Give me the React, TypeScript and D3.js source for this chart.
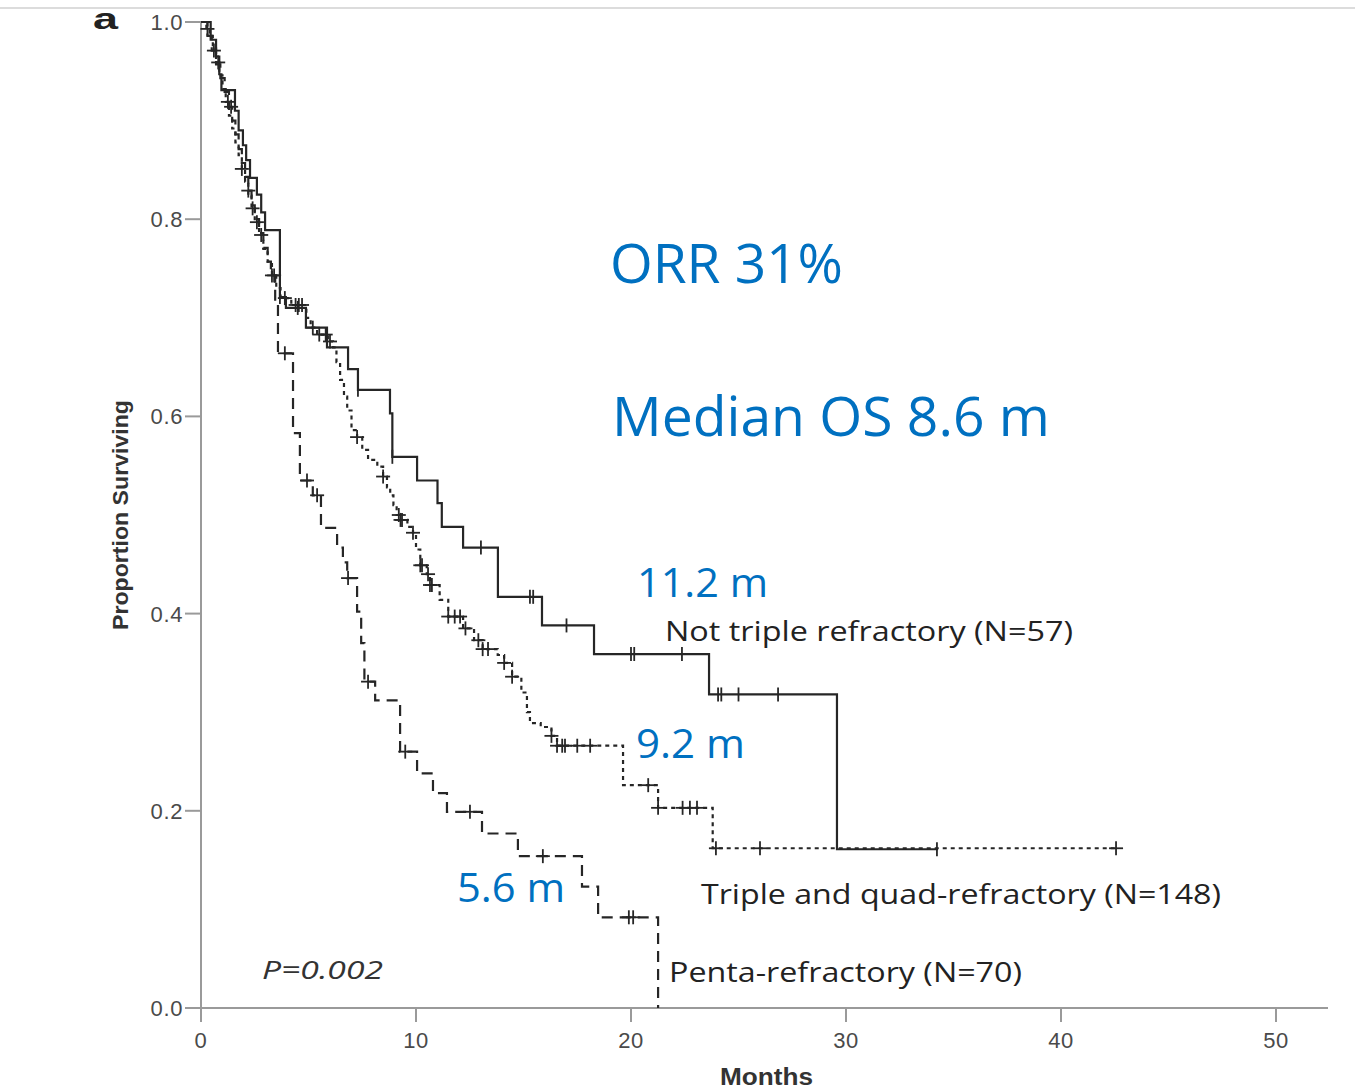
import React from "react";
import * as d3 from "d3";

// ---- Data (months, proportion surviving after the drop) ----
const notTripleSteps: [number, number][] = [
  [0.45, 0.982], [0.7, 0.965], [0.85, 0.947], [0.95, 0.931], [1.58, 0.91], [1.75, 0.89],
  [1.95, 0.875], [2.1, 0.86], [2.28, 0.842], [2.6, 0.825], [2.8, 0.807], [2.98, 0.789],
  [3.67, 0.721], [3.95, 0.71], [4.88, 0.69], [5.86, 0.67], [6.84, 0.648], [7.3, 0.627],
  [8.79, 0.603], [8.9, 0.559], [10.05, 0.535], [11.0, 0.512], [11.2, 0.488], [12.19, 0.467],
  [13.81, 0.417], [15.86, 0.388], [18.28, 0.359], [23.63, 0.318], [29.58, 0.161],
];
const notTripleEnd = 34.28;
const notTripleCensor = [3.67, 4.5, 7.3, 8.9, 13.02, 15.3, 15.45, 17.0, 20.0, 20.15, 22.37, 24.05, 24.2, 25.0, 26.84, 34.23];

const tripleQuadSteps: [number, number][] = [
  [0.25, 0.993], [0.4, 0.986], [0.55, 0.973], [0.7, 0.959], [0.85, 0.946], [1.0, 0.932],
  [1.15, 0.919], [1.3, 0.905], [1.45, 0.892], [1.6, 0.878], [1.75, 0.865], [1.9, 0.851],
  [2.05, 0.838], [2.2, 0.824], [2.35, 0.811], [2.5, 0.797], [2.7, 0.784], [2.9, 0.77],
  [3.1, 0.757], [3.3, 0.743], [3.5, 0.73], [3.7, 0.72], [4.2, 0.713], [4.9, 0.7],
  [5.1, 0.69], [5.4, 0.683], [5.9, 0.676], [6.14, 0.67], [6.3, 0.655], [6.47, 0.637],
  [6.65, 0.62], [6.8, 0.606], [7.0, 0.586], [7.26, 0.579], [7.5, 0.566], [7.77, 0.556],
  [8.2, 0.549], [8.47, 0.539], [8.65, 0.528], [8.8, 0.52], [8.95, 0.51], [9.1, 0.5],
  [9.26, 0.495], [9.6, 0.488], [9.86, 0.482], [10.0, 0.465], [10.2, 0.449], [10.5, 0.44],
  [10.65, 0.429], [11.1, 0.414], [11.5, 0.397], [12.19, 0.385], [12.7, 0.373], [13.1, 0.364],
  [13.8, 0.358], [14.1, 0.35], [14.47, 0.336], [14.9, 0.32], [15.16, 0.3], [15.3, 0.289],
  [15.8, 0.285], [16.3, 0.276], [16.56, 0.266], [19.63, 0.226], [21.26, 0.203], [23.8, 0.162],
];
const tripleQuadEnd = 42.56;
const tripleQuadCensor = [
  0.3, 0.8, 1.25, 1.9, 2.4, 2.6, 2.8, 3.4, 3.9, 4.4, 4.55, 4.7, 5.2, 5.5, 5.8, 6.0, 7.26, 8.47,
  9.2, 9.28, 9.35, 9.86, 10.2, 10.28, 10.56, 10.65, 10.74, 11.5, 11.8, 12.05, 12.3, 12.9, 13.1,
  13.35, 14.1, 14.47, 16.3, 16.56, 16.8, 16.93, 17.5, 18.1, 20.8, 21.26, 22.4, 22.74, 23.07,
  23.95, 26.0, 42.56,
];

const pentaSteps: [number, number][] = [
  [0.3, 0.986], [0.5, 0.971], [0.7, 0.957], [0.9, 0.943], [1.1, 0.929], [1.3, 0.914],
  [1.45, 0.9], [1.6, 0.886], [1.75, 0.871], [1.9, 0.857], [2.05, 0.843], [2.2, 0.829],
  [2.35, 0.814], [2.5, 0.8], [2.7, 0.786], [2.9, 0.771], [3.1, 0.757], [3.25, 0.743],
  [3.45, 0.714], [3.58, 0.664], [4.28, 0.583], [4.6, 0.535], [5.2, 0.52], [5.58, 0.487],
  [6.33, 0.467], [6.6, 0.452], [6.8, 0.436], [7.26, 0.402], [7.45, 0.37], [7.6, 0.331],
  [8.1, 0.312], [9.26, 0.26], [10.05, 0.238], [10.79, 0.218], [11.44, 0.199], [13.07, 0.177],
  [14.74, 0.154], [17.72, 0.123], [18.47, 0.092], [21.26, 0.0],
];
const pentaEnd = 21.26;
const pentaCensor = [0.6, 1.4, 2.2, 3.3, 3.9, 4.93, 5.4, 6.84, 7.77, 9.5, 12.51, 15.9, 19.9, 20.1];

const xTicks = [0, 10, 20, 30, 40, 50];
const yTicks = [0, 0.2, 0.4, 0.6, 0.8, 1.0];

const W = 1355;
const H = 1089;
const LINE = "#262626";
const AXIS = "#9a9a9a";
const BLUE = "#0070C0";

function levelAt(steps: [number, number][], t: number): number {
  let s = 1;
  for (const [st, sv] of steps) {
    if (st <= t) s = sv;
    else break;
  }
  return s;
}

export default function App() {
  const x = d3.scaleLinear().domain([0, 50]).range([201, 1276]);
  const y = d3.scaleLinear().domain([0, 1]).range([1008, 22]);

  const line = d3
    .line<[number, number]>()
    .x((d) => x(d[0]))
    .y((d) => y(d[1]))
    .curve(d3.curveStepAfter);

  const series = [
    { steps: notTripleSteps, end: notTripleEnd, censor: notTripleCensor, dash: undefined as string | undefined, plus: false },
    { steps: tripleQuadSteps, end: tripleQuadEnd, censor: tripleQuadCensor, dash: "4,4", plus: true },
    { steps: pentaSteps, end: pentaEnd, censor: pentaCensor, dash: "11,7", plus: true },
  ];

  const tickFont = "'Liberation Sans', Arial, sans-serif";
  const calFont = "'Open Sans', 'Noto Sans', sans-serif";

  return (
    <svg width={W} height={H} style={{ position: "absolute", left: 0, top: 0, background: "#fff" }}>
      <rect x={0} y={0} width={W} height={H} fill="#fff" />
      <line x1={0} x2={W} y1={8} y2={8} stroke="#dcdcdc" strokeWidth={2} />
      <text x={93} y={29} fontFamily={tickFont} fontWeight="bold" fontSize={30} fill="#222" textLength={25} lengthAdjust="spacingAndGlyphs">a</text>

      {/* axes */}
      <line x1={x(0)} x2={x(0)} y1={y(1)} y2={y(0) + 14} stroke={AXIS} strokeWidth={2} />
      <line x1={x(0)} x2={1328} y1={y(0)} y2={y(0)} stroke={AXIS} strokeWidth={2} />
      {yTicks.map((t) => (
        <g key={"y" + t}>
          <line x1={x(0) - 16} x2={x(0)} y1={y(t)} y2={y(t)} stroke={AXIS} strokeWidth={2} />
          <text x={x(0) - 18} y={y(t)} dy="0.36em" textAnchor="end" fontFamily={tickFont} fontSize={22} letterSpacing={0.6} fill="#4a4a4a">
            {t.toFixed(1)}
          </text>
        </g>
      ))}
      {xTicks.map((t) => (
        <g key={"x" + t}>
          <line x1={x(t)} x2={x(t)} y1={y(0)} y2={y(0) + 14} stroke={AXIS} strokeWidth={2} />
          <text x={x(t)} y={1048} textAnchor="middle" fontFamily={tickFont} fontSize={22} letterSpacing={0.6} fill="#4a4a4a">
            {t}
          </text>
        </g>
      ))}
      <text x={720} y={1085} fontFamily={tickFont} fontWeight="bold" fontSize={23} fill="#333" textLength={93} lengthAdjust="spacingAndGlyphs">Months</text>
      <text transform="translate(128,630) rotate(-90)" fontFamily={tickFont} fontWeight="bold" fontSize={22} fill="#333" textLength={230} lengthAdjust="spacingAndGlyphs">
        Proportion Surviving
      </text>

      {/* curves */}
      {series.map((s, i) => {
        const last = s.steps[s.steps.length - 1][1];
        const pts: [number, number][] = [[0, 1], ...s.steps, [s.end, last]];
        return (
          <g key={"s" + i}>
            <path d={line(pts) || ""} fill="none" stroke={LINE} strokeWidth={2.2} strokeDasharray={s.dash} />
            {s.censor.map((c, j) => {
              const cx = x(c);
              const cy = y(levelAt(s.steps, c));
              return (
                <g key={j} stroke={LINE} strokeWidth={1.8}>
                  <line x1={cx} x2={cx} y1={cy - 7} y2={cy + 7} />
                  {s.plus && <line x1={cx - 7} x2={cx + 7} y1={cy} y2={cy} />}
                </g>
              );
            })}
          </g>
        );
      })}

      {/* annotations */}
      <text x={610} y={283} fontFamily={calFont} fontSize={55} fill={BLUE} textLength={233} lengthAdjust="spacingAndGlyphs">ORR 31%</text>
      <text x={612} y={436} fontFamily={calFont} fontSize={55} fill={BLUE} textLength={438} lengthAdjust="spacingAndGlyphs">Median OS 8.6 m</text>
      <text x={637} y={597} fontFamily={calFont} fontSize={41} fill={BLUE} textLength={131} lengthAdjust="spacingAndGlyphs">11.2 m</text>
      <text x={636} y={758} fontFamily={calFont} fontSize={41} fill={BLUE} textLength={109} lengthAdjust="spacingAndGlyphs">9.2 m</text>
      <text x={457} y={902} fontFamily={calFont} fontSize={41} fill={BLUE} textLength={108} lengthAdjust="spacingAndGlyphs">5.6 m</text>

      <text x={665} y={641} fontFamily={calFont} fontSize={27} fill="#222" textLength={408} lengthAdjust="spacingAndGlyphs">Not triple refractory (N=57)</text>
      <text x={701} y={904} fontFamily={calFont} fontSize={27} fill="#222" textLength={520} lengthAdjust="spacingAndGlyphs">Triple and quad-refractory (N=148)</text>
      <text x={669} y={982} fontFamily={calFont} fontSize={27} fill="#222" textLength={353} lengthAdjust="spacingAndGlyphs">Penta-refractory (N=70)</text>
      <text x={262} y={979} fontFamily={calFont} fontStyle="italic" fontSize={26} fill="#333" textLength={121} lengthAdjust="spacingAndGlyphs">P=0.002</text>
    </svg>
  );
}
